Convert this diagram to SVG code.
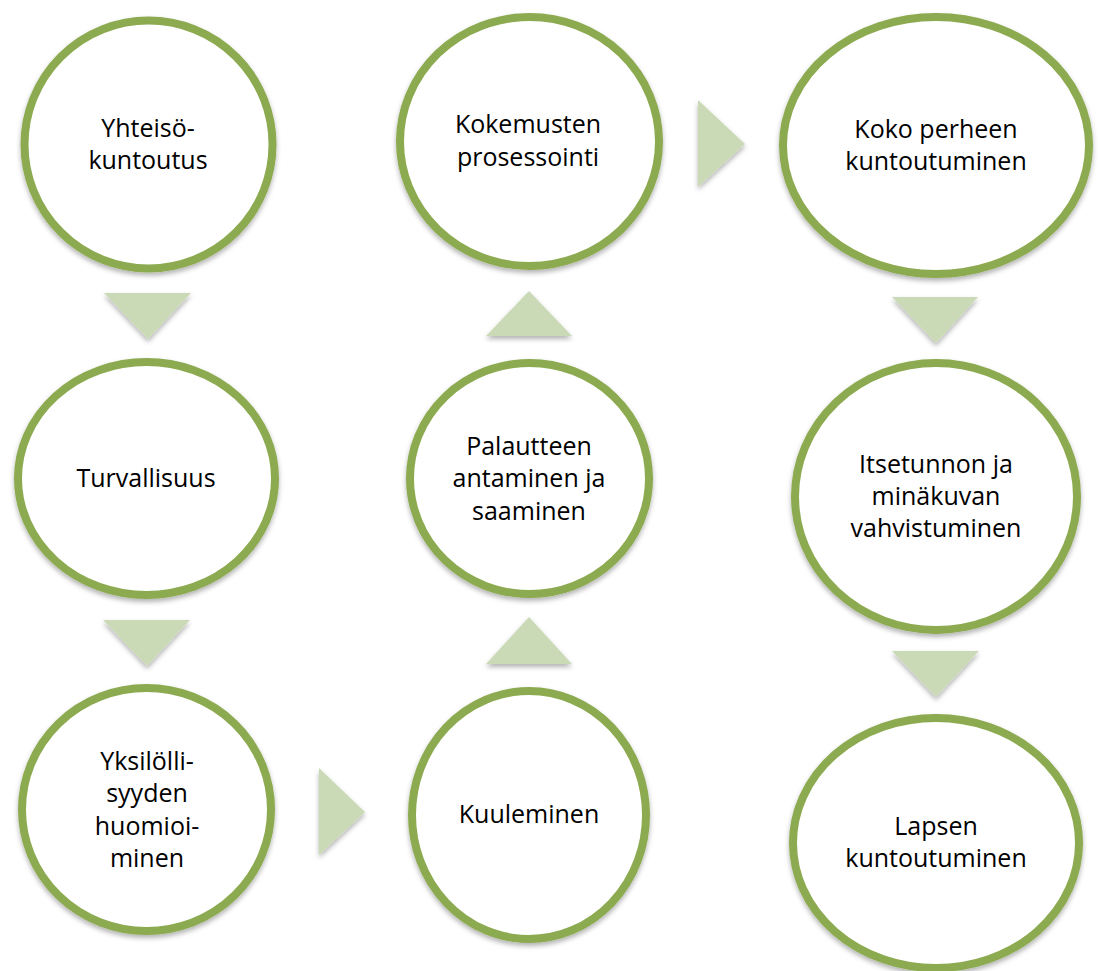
<svg xmlns="http://www.w3.org/2000/svg" width="1100" height="971" viewBox="0 0 1100 971">
<style>
.node ellipse{fill:#ffffff;stroke:#8CAA50;stroke-width:8;filter:url(#sh)}
.node text{font-family:"Open Sans","Noto Sans","Liberation Sans",sans-serif;font-size:25px;fill:#000000;text-anchor:middle}
.conn polygon{fill:#CBDAB6;filter:url(#sh)}
</style>
<defs>
<filter id="sh" x="-10%" y="-10%" width="120%" height="125%">
<feDropShadow dx="0" dy="3" stdDeviation="2.5" flood-color="#000000" flood-opacity="0.3"/>
</filter>
</defs>
<rect width="1100" height="971" fill="#ffffff"/>
<g id="connectors" class="conn">
<polygon points="104,293 191,293 148,339"/>
<polygon points="103,620 190,620 147,666"/>
<polygon points="319,768 319,855 365,812"/>
<polygon points="486,664 572,664 529,617"/>
<polygon points="486,336 572,336 529,291"/>
<polygon points="698,100 698,187 745,144"/>
<polygon points="892,297 978,297 936,343"/>
<polygon points="892,651 979,651 936,697"/>
</g>
<g id="n1" class="node">
<ellipse cx="148.5" cy="144.5" rx="124" ry="124"/>
<text x="148" y="137">Yhteisö-</text>
<text x="148" y="168.5">kuntoutus</text>
</g>
<g id="n2" class="node">
<ellipse cx="146.5" cy="478.5" rx="128.5" ry="116.5"/>
<text x="146" y="487">Turvallisuus</text>
</g>
<g id="n3" class="node">
<ellipse cx="146.5" cy="809.5" rx="124.5" ry="121.5"/>
<text x="147" y="770">Yksilölli-</text>
<text x="147" y="802">syyden</text>
<text x="147" y="835">huomioi-</text>
<text x="147" y="867">minen</text>
</g>
<g id="n4" class="node">
<ellipse cx="529.5" cy="141.5" rx="129.5" ry="124.5"/>
<text x="528" y="133">Kokemusten</text>
<text x="528" y="166">prosessointi</text>
</g>
<g id="n5" class="node">
<ellipse cx="529.5" cy="478.5" rx="119.5" ry="115.5"/>
<text x="529" y="455">Palautteen</text>
<text x="529" y="487">antaminen ja</text>
<text x="529" y="520">saaminen</text>
</g>
<g id="n6" class="node">
<ellipse cx="529" cy="815" rx="117" ry="124"/>
<text x="529" y="823">Kuuleminen</text>
</g>
<g id="n7" class="node">
<ellipse cx="936" cy="145.5" rx="153" ry="128.5"/>
<text x="936" y="138">Koko perheen</text>
<text x="936" y="170">kuntoutuminen</text>
</g>
<g id="n8" class="node">
<ellipse cx="936" cy="496.5" rx="141" ry="133.5"/>
<text x="936" y="473">Itsetunnon ja</text>
<text x="936" y="505">minäkuvan</text>
<text x="936" y="537">vahvistuminen</text>
</g>
<g id="n9" class="node">
<ellipse cx="936" cy="843" rx="143" ry="125"/>
<text x="936" y="835">Lapsen</text>
<text x="936" y="867">kuntoutuminen</text>
</g>
</svg>
